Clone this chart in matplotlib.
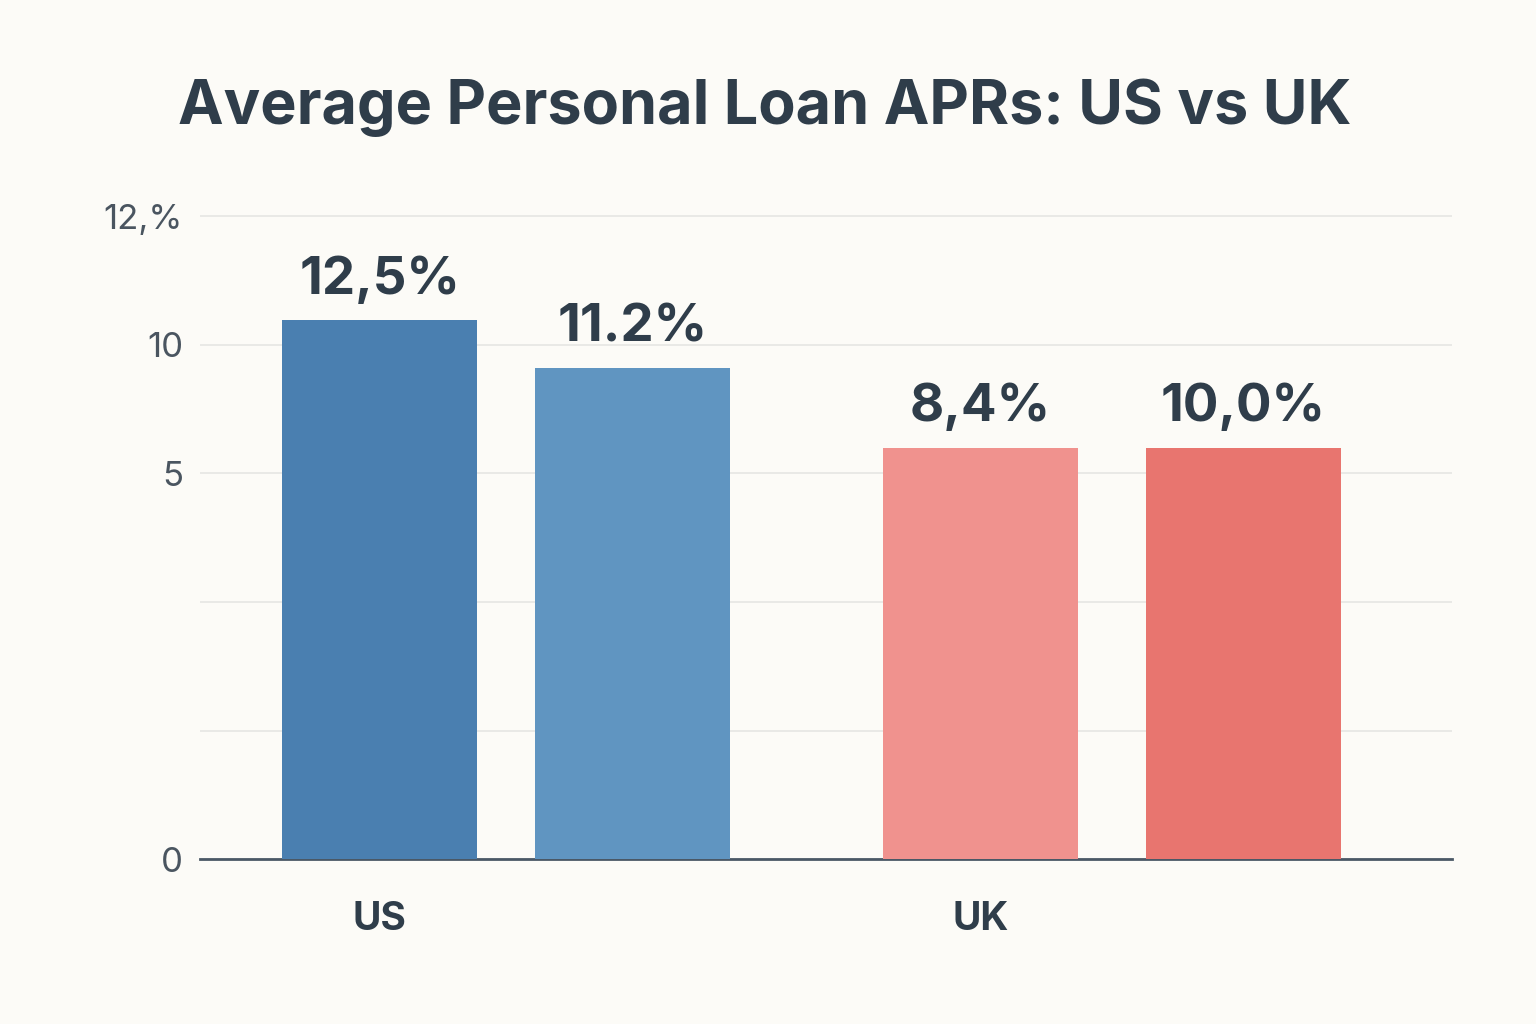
import matplotlib.pyplot as plt

# bar heights, in grid steps (the axis labels are irregular)
categories = ["US", "UK"]
bar_labels = ["12,5%", "11.2%", "8,4%", "10,0%"]
bar_heights = [4.19, 3.82, 3.20, 3.20]
bar_positions = [0, 1, 2.375, 3.415]
colors = ["#4a7fb0", "#6095c1", "#f0928e", "#e8756f"]
tick_values = [0, 1, 2, 3, 4, 5]
tick_labels = ["0", "", "", "5", "10", "12,%"]

text_color = "#2f3d4a"
bg = "#fcfbf7"

plt.rcParams['font.family'] = ['Inter', 'DejaVu Sans']
fig = plt.figure(figsize=(15.36, 10.24), dpi=100, facecolor=bg)
ax = fig.add_axes([0.130, 0.161, 0.815, 0.6436], facecolor=bg)

ax.bar(bar_positions, bar_heights, width=0.77, color=colors, zorder=3)
for x, h, lab in zip(bar_positions, bar_heights, bar_labels):
    ax.text(x, h + 0.12, lab, ha='center', va='bottom', fontsize=38,
            fontweight='bold', color=text_color, zorder=4)

ax.set_xlim(-0.711, 4.237)
ax.set_ylim(0, 5.125)
ax.set_yticks(tick_values)
ax.set_yticklabels(tick_labels, fontsize=25, color="#4a5560")
ax.set_xticks([bar_positions[0], bar_positions[2]])
ax.set_xticklabels(categories, fontsize=28, fontweight='bold', color=text_color)
ax.tick_params(length=0, pad=12)
ax.tick_params(axis='x', pad=30)
ax.grid(axis='y', color="#e6e6e3", linewidth=1.2, zorder=0)
for s in ['top', 'right', 'left']:
    ax.spines[s].set_visible(False)
ax.spines['bottom'].set_color("#4a5866")
ax.spines['bottom'].set_linewidth(2)

fig.text(0.498, 0.895, "Average Personal Loan APRs: US vs UK", ha='center',
         va='center', fontsize=44, fontweight='bold', color=text_color)

fig.savefig("out.png", dpi=100, facecolor=bg)
